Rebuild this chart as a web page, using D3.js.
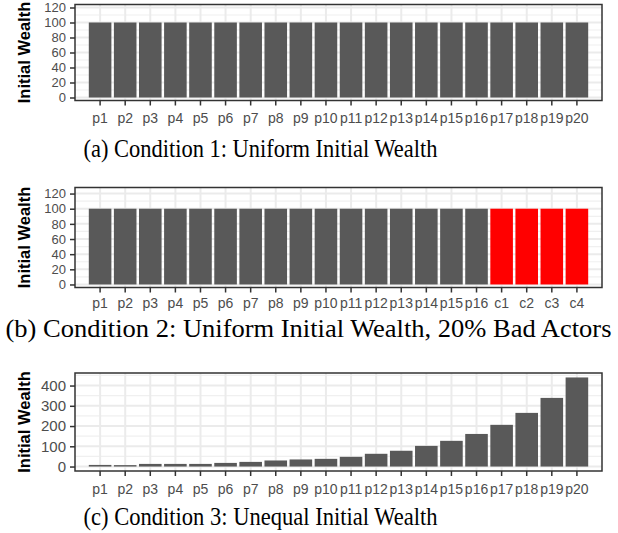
<!DOCTYPE html>
<html>
<head>
<meta charset="utf-8">
<script src="https://cdn.jsdelivr.net/npm/d3@7"></script>
<style>
  body { margin: 0; background: #fff; }
  svg { display: block; }
</style>
</head>
<body>
<script>
// ---- data ----
var playersA = ["p1","p2","p3","p4","p5","p6","p7","p8","p9","p10","p11","p12","p13","p14","p15","p16","p17","p18","p19","p20"];
var wealthA  = [100,100,100,100,100,100,100,100,100,100,100,100,100,100,100,100,100,100,100,100];

var playersB = ["p1","p2","p3","p4","p5","p6","p7","p8","p9","p10","p11","p12","p13","p14","p15","p16","c1","c2","c3","c4"];
var wealthB  = [100,100,100,100,100,100,100,100,100,100,100,100,100,100,100,100,100,100,100,100];

var playersC = ["p1","p2","p3","p4","p5","p6","p7","p8","p9","p10","p11","p12","p13","p14","p15","p16","p17","p18","p19","p20"];
var wealthC  = [8,7,13,13,13,18,23,30,35,38,48,63,78,102,127,161,206,265,339,440];

var ticksSmall = [0,20,40,60,80,100,120];
var ticksBig   = [0,100,200,300,400];

var captions = [
  "(a) Condition 1: Uniform Initial Wealth",
  "(b) Condition 2: Uniform Initial Wealth, 20% Bad Actors",
  "(c) Condition 3: Unequal Initial Wealth"
];

var W = 618, H = 533;
var svg = d3.select("body").append("svg").attr("width", W).attr("height", H);

function panel(opt) {
    var left = 75, right = 602;
    var g = svg.append("g");

    var x = d3.scaleBand().domain(opt.cats).range([left, right]).paddingInner(0.1).paddingOuter(0.55);
    var y = d3.scaleLinear().domain(opt.ydom).range([opt.bottom, opt.top]);

    // grid
    g.selectAll(".minor").data(opt.minor).enter().append("line")
        .attr("x1", left).attr("x2", right)
        .attr("y1", function(d) { return y(d); }).attr("y2", function(d) { return y(d); })
        .attr("stroke", "#F0F0F0").attr("stroke-width", 1.2);
    g.selectAll(".major").data(opt.ticks).enter().append("line")
        .attr("x1", left).attr("x2", right)
        .attr("y1", function(d) { return y(d); }).attr("y2", function(d) { return y(d); })
        .attr("stroke", "#EBEBEB").attr("stroke-width", 2);
    g.selectAll(".vgrid").data(opt.cats).enter().append("line")
        .attr("x1", function(d) { return x(d) + x.bandwidth() / 2; })
        .attr("x2", function(d) { return x(d) + x.bandwidth() / 2; })
        .attr("y1", opt.top).attr("y2", opt.bottom)
        .attr("stroke", "#EBEBEB").attr("stroke-width", 2);

    // bars
    g.selectAll(".bar").data(opt.vals).enter().append("rect")
        .attr("x", function(d, i) { return x(opt.cats[i]); })
        .attr("width", x.bandwidth())
        .attr("y", function(d) { return y(d); })
        .attr("height", function(d) { return y(0) - y(d); })
        .attr("fill", function(d, i) { return opt.cats[i][0] === "c" ? "#FF0000" : "#595959"; });

    // border
    g.append("rect").attr("x", left).attr("y", opt.top).attr("width", right - left)
        .attr("height", opt.bottom - opt.top).attr("fill", "none")
        .attr("stroke", "#333333").attr("stroke-width", 1.5);

    // axes
    var xAxis = d3.axisBottom(x).tickSize(5).tickPadding(opt.xpad);
    var gx = g.append("g").attr("transform", "translate(0," + opt.bottom + ")").call(xAxis);
    var yAxis = d3.axisLeft(y).tickValues(opt.ticks).tickSize(5).tickPadding(4);
    var gy = g.append("g").attr("transform", "translate(" + left + ",0)").call(yAxis);
    [gx, gy].forEach(function(a) {
        a.select(".domain").remove();
        a.selectAll(".tick line").attr("stroke", "#333333").attr("stroke-width", 1.5);
        a.selectAll(".tick text").attr("fill", "#4D4D4D")
            .style("font-family", "'Liberation Sans', Arial, sans-serif");
    });
    gx.selectAll(".tick text").style("font-size", "14px").attr("dy", "0.9em");
    gy.selectAll(".tick text").style("font-size", opt.ylabSize + "px");

    // y title
    g.append("text")
        .attr("transform", "translate(30," + ((opt.top + opt.bottom) / 2) + ") rotate(-90)")
        .attr("text-anchor", "middle")
        .style("font-family", "'Liberation Sans', Arial, sans-serif")
        .style("font-size", "16.5px").style("font-weight", "bold").attr("fill", "#000")
        .text("Initial Wealth");

    // caption
    svg.append("text").attr("x", opt.capX).attr("y", opt.capY)
        .attr("text-anchor", "middle")
        .attr("textLength", opt.capW).attr("lengthAdjust", "spacingAndGlyphs")
        .style("font-family", "'Liberation Serif', 'Times New Roman', serif")
        .style("font-size", "26px").attr("fill", "#000")
        .text(opt.caption);
}

panel({ cats: playersA, vals: wealthA, ydom: [-4, 124], top: 4.5, bottom: 100.5,
        ticks: ticksSmall, minor: [10,30,50,70,90,110], ylabSize: 13, xpad: 5,
        caption: captions[0], capX: 260.5, capY: 157, capW: 354 });
panel({ cats: playersB, vals: wealthB, ydom: [-4, 128], top: 187.5, bottom: 287.5,
        ticks: ticksSmall, minor: [10,30,50,70,90,110], ylabSize: 13, xpad: 3,
        caption: captions[1], capX: 308.5, capY: 337, capW: 606 });
panel({ cats: playersC, vals: wealthC, ydom: [-22, 462], top: 373, bottom: 471,
        ticks: ticksBig, minor: [50,150,250,350,450], ylabSize: 15, xpad: 5,
        caption: captions[2], capX: 260.5, capY: 525, capW: 354 });
</script>
</body>
</html>
